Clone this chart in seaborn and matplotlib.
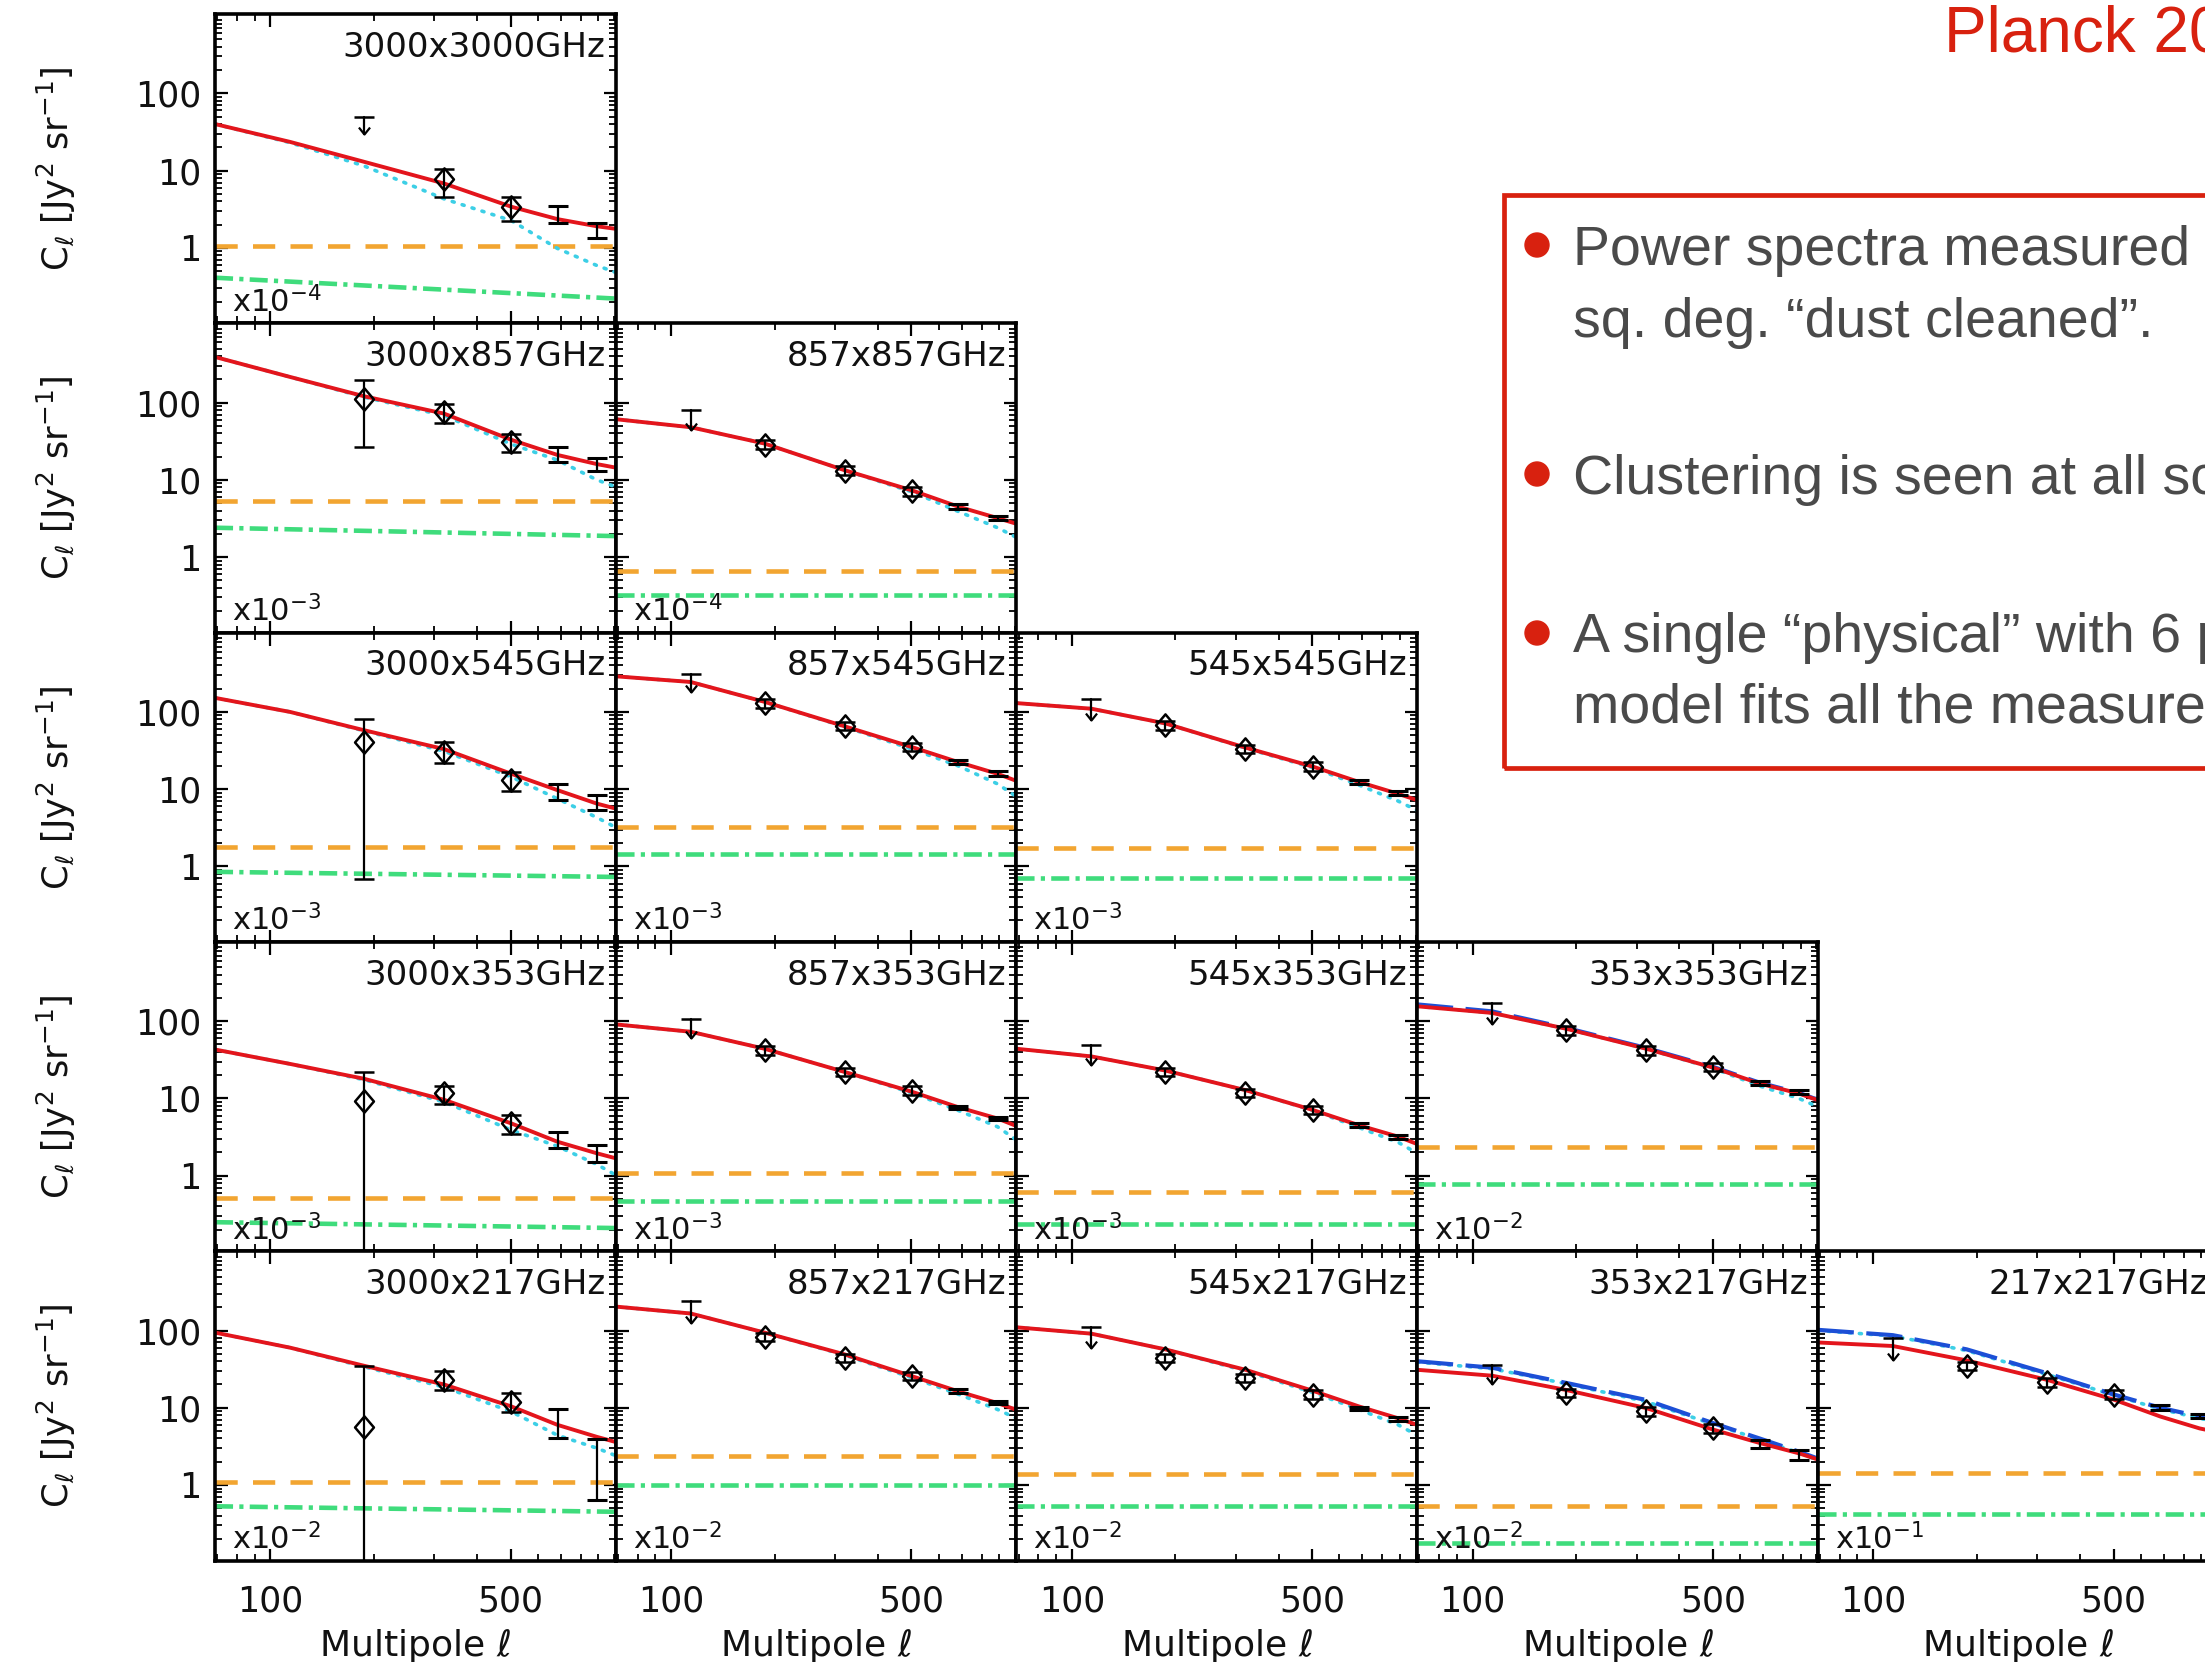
import numpy as np
import matplotlib
matplotlib.use("Agg")
import matplotlib.pyplot as plt
import matplotlib.patches as mpatches
from matplotlib.path import Path
from matplotlib.ticker import FixedLocator, FixedFormatter, NullFormatter, LogLocator
import seaborn as sns

sns.set_style("white")
plt.rcParams["font.family"] = ["DejaVu Sans"]
plt.rcParams["mathtext.fontset"] = "dejavusans"
plt.rcParams["lines.scale_dashes"] = False

W, H = 2205, 1662

# ---------------------------------------------------------------- data
PANEL_ROW = [0, 1, 1, 2, 2, 2, 3, 3, 3, 3, 4, 4, 4, 4, 4]
PANEL_COL = [0, 0, 1, 0, 1, 2, 0, 1, 2, 3, 0, 1, 2, 3, 4]
PANEL_LABEL = ["3000x3000GHz", "3000x857GHz", "857x857GHz",
               "3000x545GHz", "857x545GHz", "545x545GHz",
               "3000x353GHz", "857x353GHz", "545x353GHz", "353x353GHz",
               "3000x217GHz", "857x217GHz", "545x217GHz", "353x217GHz",
               "217x217GHz"]
PANEL_EXP = [-4, -3, -4, -3, -3, -3, -3, -3, -3, -2, -2, -2, -2, -2, -1]

# multipoles at which the model curves are tabulated
ELL_MODEL = [69, 114, 187, 320, 502, 684, 890, 1010]

# total model (red, solid)
TOTAL_MODEL = [
    [40, 23.5, 13, 6.8, 3.4, 2.35, 1.9, 1.76],
    [390, 215, 121, 72, 33, 21, 16, 14.4],
    [61, 48, 29.5, 13.3, 7.3, 4.5, 3.2, 2.7],
    [152, 100, 58, 33, 15.8, 9.7, 6.5, 5.6],
    [289, 244, 135, 65, 35, 22.4, 15.8, 12.8],
    [130, 110, 71, 34.5, 19.6, 12.4, 8.7, 7.2],
    [43, 28, 18, 9.6, 4.75, 2.75, 1.95, 1.68],
    [91, 73, 44, 22, 12.2, 7.7, 5.5, 4.4],
    [44, 35, 23, 12.8, 7.1, 4.5, 3.2, 2.57],
    [156, 128, 80, 44, 25, 15.6, 11.6, 9.5],
    [94, 60, 35, 20, 10.4, 6.0, 4.2, 3.6],
    [204, 166, 94, 49, 25.6, 16.3, 11.5, 9.4],
    [110, 91, 57, 31, 16.6, 10.4, 7.3, 6.0],
    [31, 26, 17, 9.9, 5.2, 3.5, 2.57, 2.14],
    [70, 63, 41, 23, 12.7, 7.7, 5.4, 4.8],
]

# clustering term (cyan, dotted)
CLUSTER_MODEL = [
    [40, 23, 11.5, 4.3, 2.25, 0.98, 0.59, 0.48],
    [390, 215, 118, 68, 29, 18, 10, 8.1],
    [61, 48, 29.5, 13.3, 7.0, 3.9, 2.4, 1.8],
    [152, 100, 57, 31, 14.4, 7.5, 4.3, 3.2],
    [289, 244, 135, 64, 33, 20, 11.7, 8],
    [130, 110, 71, 34, 19, 11.3, 7.0, 5.3],
    [43, 28, 17.5, 9.0, 3.9, 2.4, 1.4, 1.02],
    [91, 73, 44, 22, 11.8, 7.0, 4.3, 2.9],
    [44, 35, 23, 12.8, 7.0, 4.2, 2.7, 1.95],
    [156, 128, 80, 44, 24.5, 14.5, 10, 7.8],
    [94, 60, 34, 18.5, 8.9, 4.4, 3.0, 2.4],
    [204, 166, 94, 48, 24.5, 15, 9.5, 7.3],
    [110, 91, 57, 30, 15.8, 9.5, 6.0, 4.4],
    [39, 32, 20.5, 12, 6.1, 3.9, 2.6, 2.1],
    [100, 85, 55, 27, 14.5, 9.6, 7.3, 6.5],
]

# alternative model (blue, long dashes) for the low-frequency spectra
ALT_PANELS = [9, 13, 14]
ALT_MODEL = [
    [165, 134, 82, 45, 25.5, 16, 11.8, 9.6],
    [40, 33, 21, 12.6, 6.3, 4.0, 2.7, 2.2],
    [102, 87, 57, 28, 14.8, 10, 7.7, 7.0],
]

# shot-noise level (orange, dashed)
SHOT_LEVEL = [1.05, 5.3, 0.665, 1.78, 3.2, 1.75, 0.51, 1.07, 0.62, 2.37,
              1.1, 2.4, 1.4, 0.54, 1.43]
# one-halo term at the two ends of the multipole range (green, dash-dot)
ONEHALO_LEFT = [0.41, 2.4, 0.32, 0.85, 1.46, 0.71, 0.25, 0.47, 0.24, 0.78,
                0.53, 1.0, 0.53, 0.18, 0.42]
ONEHALO_RIGHT = [0.22, 1.87, 0.32, 0.73, 1.46, 0.71, 0.21, 0.47, 0.24, 0.78,
                 0.45, 1.0, 0.53, 0.18, 0.42]

# upper limits: multipole, cap value, arrow tip
UL_ELL = [187, None, 114, None, 114, 114, None, 114, 114, 114,
          None, 114, 114, 114, 114]
UL_TOP = [49, None, 81, None, 312, 148, None, 108, 49, 170,
          None, 244, 110, 36, 81]
UL_TIP = [30, None, 44, None, 181, 78, None, 60, 27, 91,
          None, 126, 60, 20, 42]

# measured band powers (diamonds) with error bars
PT_ELL = [[320, 502]] + [[187, 320, 502]] * 14
PT_VAL = [
    [7.7, 3.4], [112, 76, 31], [28.6, 13.1, 7.1], [41, 30, 13],
    [130, 66, 35], [67, 33, 19.6], [9.3, 11.6, 4.75], [42, 22, 12.6],
    [22, 11.7, 7.1], [76, 42, 25.7], [5.7, 23, 12], [83, 44, 25.7],
    [44, 24.4, 14.8], [15.6, 9, 5.4], [34.5, 21.4, 14.8],
]
PT_LO = [
    [4.6, 2.2], [27, 55, 23], [25, 11.5, 6.2], [0.69, 22, 9.5],
    [114, 58, 31], [59, 29, 17.2], [0.05, 8.6, 3.5], [37, 19.4, 11.1],
    [19.4, 10.3, 6.2], [67, 37, 22.6], [0.05, 17, 8.9], [73, 38.7, 22.6],
    [38.7, 21.5, 13], [13.7, 7.9, 4.75], [30.4, 18.8, 13],
]
PT_HI = [
    [10.5, 4.5], [199, 96, 39], [33, 15, 8.1], [81, 41, 16.6],
    [148, 75, 40], [76, 37.5, 22.3], [22, 14.5, 6.1], [47.5, 25, 14.3],
    [25, 13.3, 8.1], [86, 47.5, 29], [35, 30, 15.6], [94, 50, 29.2],
    [50, 27.7, 16.8], [17.7, 10.2, 6.1], [39, 24.3, 16.8],
]

# high-multipole bins shown as bare error bars
BAR_ELL = [684, 890]
BAR_LO = [
    [2.1, 1.33], [17, 13], [4.2, 3.0], [7.2, 5.4], [21, 15], [11.7, 8.5],
    [2.25, 1.5], [7.2, 5.2], [4.25, 3.0], [15.1, 11.3], [4.1, 0.63],
    [15.6, 11.1], [9.3, 6.8], [3.0, 2.1], [9.3, 7.3],
]
BAR_HI = [
    [3.5, 2.1], [27, 19], [4.8, 3.4], [11.7, 8.3], [23.5, 17], [13.1, 9.5],
    [3.7, 2.5], [8.0, 5.8], [4.75, 3.4], [16.9, 12.7], [9.7, 3.9],
    [17.4, 12.3], [10.3, 7.6], [3.8, 2.8], [10.7, 8.4],
]

X_TICKS = [100, 500]
X_TICK_LABELS = ["100", "500"]
Y_TICKS = [1, 10, 100]
Y_TICK_LABELS = ["1", "10", "100"]

BULLETS = [
    ["Power spectra measured on 2240", "sq. deg. \u201cdust cleaned\u201d."],
    ["Clustering is seen at all scales."],
    ["A single \u201cphysical\u201d with 6 parameters",
     "model fits all the measurements."],
]
TITLE = "Planck 2013"

# ---------------------------------------------------------------- styles
RED = "#e3151c"
CYAN = "#3ccfe6"
ORANGE = "#f2a531"
GREEN = "#3fdc7c"
BLUE = "#1c4fd6"
SLIDE_RED = "#d8210f"
SLIDE_GREY = "#4a4a4a"
INK = "#111111"

DIAMOND = Path([(0, 1), (0.85, 0), (0, -1), (-0.85, 0), (0, 1)],
               [Path.MOVETO, Path.LINETO, Path.LINETO, Path.LINETO,
                Path.CLOSEPOLY])
ARROWHEAD = Path([(-0.6, 0.75), (0, 0), (0.6, 0.75)],
                 [Path.MOVETO, Path.LINETO, Path.LINETO])

COL_X0, COL_W = 215.0, 400.7
ROW_Y0, ROW_H = 14.1, 309.3


def panel_rect(r, c):
    left = (COL_X0 + c * COL_W) / W
    bottom = 1 - (ROW_Y0 + (r + 1) * ROW_H) / H
    return [left, bottom, COL_W / W, ROW_H / H]


fig = plt.figure(figsize=(W / 100, H / 100), dpi=100)

for i in range(len(PANEL_LABEL)):
    r, c = PANEL_ROW[i], PANEL_COL[i]
    ax = fig.add_axes(panel_rect(r, c))
    ax.set_xscale("log")
    ax.set_yscale("log")

    x_ends = [ELL_MODEL[0], ELL_MODEL[-1]]
    sns.lineplot(x=x_ends, y=[SHOT_LEVEL[i], SHOT_LEVEL[i]], ax=ax,
                 color=ORANGE, lw=3.3, linestyle=(0, (16, 11)),
                 estimator=None, legend=False)
    sns.lineplot(x=x_ends, y=[ONEHALO_LEFT[i], ONEHALO_RIGHT[i]], ax=ax,
                 color=GREEN, lw=3.3, linestyle=(0, (13, 4.5, 3, 4.5)),
                 estimator=None, legend=False)
    sns.lineplot(x=ELL_MODEL, y=CLUSTER_MODEL[i], ax=ax, color=CYAN, lw=2.6,
                 linestyle=(0, (1.5, 6)), dash_capstyle="round",
                 estimator=None, legend=False)
    if i in ALT_PANELS:
        sns.lineplot(x=ELL_MODEL, y=ALT_MODEL[ALT_PANELS.index(i)], ax=ax,
                     color=BLUE, lw=3.0, linestyle=(0, (26, 9)),
                     estimator=None, legend=False)
    sns.lineplot(x=ELL_MODEL, y=TOTAL_MODEL[i], ax=ax, color=RED, lw=2.8,
                 estimator=None, legend=False)

    # upper limit
    if UL_ELL[i] is not None:
        e, top, tip = UL_ELL[i], UL_TOP[i], UL_TIP[i]
        ax.plot([e, e], [top, tip], color="k", lw=1.6, zorder=5)
        ax.plot([e], [top], marker="_", ms=14, mew=1.8, color="k", zorder=5)
        ax.plot([e], [tip], marker=ARROWHEAD, ms=10, mew=1.6, mfc="none",
                mec="k", zorder=5)

    # diamonds with error bars
    val = np.array(PT_VAL[i])
    lo = np.array(PT_LO[i])
    hi = np.array(PT_HI[i])
    ax.errorbar(PT_ELL[i], val, yerr=[val - lo, hi - val], fmt="none",
                ecolor="k", elinewidth=1.6, capsize=7, capthick=1.8,
                zorder=5)
    ax.plot(PT_ELL[i], val, linestyle="none", marker=DIAMOND, ms=16,
            mfc="none", mec="k", mew=1.8, zorder=6)

    # bare error bars
    blo = np.array(BAR_LO[i])
    bhi = np.array(BAR_HI[i])
    bmid = np.sqrt(blo * bhi)
    ax.errorbar(BAR_ELL, bmid, yerr=[bmid - blo, bhi - bmid], fmt="none",
                ecolor="k", elinewidth=1.6, capsize=7, capthick=2.2,
                zorder=5)

    ax.set_xlim(69, 1010)
    ax.set_ylim(0.105, 1060)
    ax.set_xlabel("")
    ax.set_ylabel("")

    ax.xaxis.set_major_locator(FixedLocator(X_TICKS))
    ax.xaxis.set_major_formatter(FixedFormatter(X_TICK_LABELS))
    ax.xaxis.set_minor_locator(FixedLocator(
        [70, 80, 90, 200, 300, 400, 600, 700, 800, 900, 1000]))
    ax.xaxis.set_minor_formatter(NullFormatter())
    ax.yaxis.set_major_locator(FixedLocator(Y_TICKS))
    ax.yaxis.set_major_formatter(FixedFormatter(Y_TICK_LABELS))
    ax.yaxis.set_minor_locator(LogLocator(base=10, subs=np.arange(2, 10),
                                          numticks=30))
    ax.yaxis.set_minor_formatter(NullFormatter())
    ax.tick_params(which="both", direction="in", top=True, right=True,
                   bottom=True, left=True, color="k")
    ax.tick_params(which="major", length=9, width=1.6)
    ax.tick_params(which="minor", length=5, width=1.3)
    ax.tick_params(axis="y", labelsize=25, pad=10, labelcolor=INK)
    ax.tick_params(axis="x", labelsize=25, pad=17, labelcolor=INK)
    if c != 0:
        ax.tick_params(labelleft=False)
    if r != 4:
        ax.tick_params(labelbottom=False)
    for sp in ax.spines.values():
        sp.set_color("k")
        sp.set_linewidth(2.6)
    ax.set_facecolor("white")

    ax.text(0.975, 0.862, PANEL_LABEL[i], transform=ax.transAxes,
            ha="right", va="baseline", fontsize=24.5, color=INK, zorder=8)
    ax.text(0.042, 0.036, "x10$^{%d}$" % PANEL_EXP[i], transform=ax.transAxes,
            ha="left", va="baseline", fontsize=22, color=INK, zorder=8)

    if c == 0:
        ax.text(-0.397, 0.5, r"C$_\ell$ [Jy$^2$ sr$^{-1}$]",
                transform=ax.transAxes, rotation=90, ha="center",
                va="center", fontsize=25.5, color=INK)
    if r == 4:
        ax.text(0.5, -0.275, r"Multipole $\ell$", transform=ax.transAxes,
                ha="center", va="center", fontsize=26, color=INK)

# ---------------------------------------------------------------- slide text
def fx(px):
    return px / W


def fy(py):
    return 1 - py / H


fig.text(fx(1944), fy(51), TITLE, fontsize=46, color=SLIDE_RED,
         family=["Liberation Sans", "DejaVu Sans"], ha="left", va="baseline")

fig.add_artist(mpatches.Rectangle((fx(1504), fy(768)), fx(900),
                                  (768 - 195) / H, fill=False,
                                  ec=SLIDE_RED, lw=3.4,
                                  transform=fig.transFigure))

bullet_y = [245, 474, 633]
line_y = [[265, 337], [494], [652, 723]]
for by, lines, ys in zip(bullet_y, BULLETS, line_y):
    fig.add_artist(mpatches.Ellipse((fx(1537), fy(by)), 24 / W, 24 / H,
                                    color=SLIDE_RED,
                                    transform=fig.transFigure))
    for txt, ty in zip(lines, ys):
        fig.text(fx(1573), fy(ty), txt, fontsize=40, color=SLIDE_GREY,
                 family=["Liberation Sans", "DejaVu Sans"],
                 ha="left", va="baseline")

fig.savefig("out.png", dpi=100)
